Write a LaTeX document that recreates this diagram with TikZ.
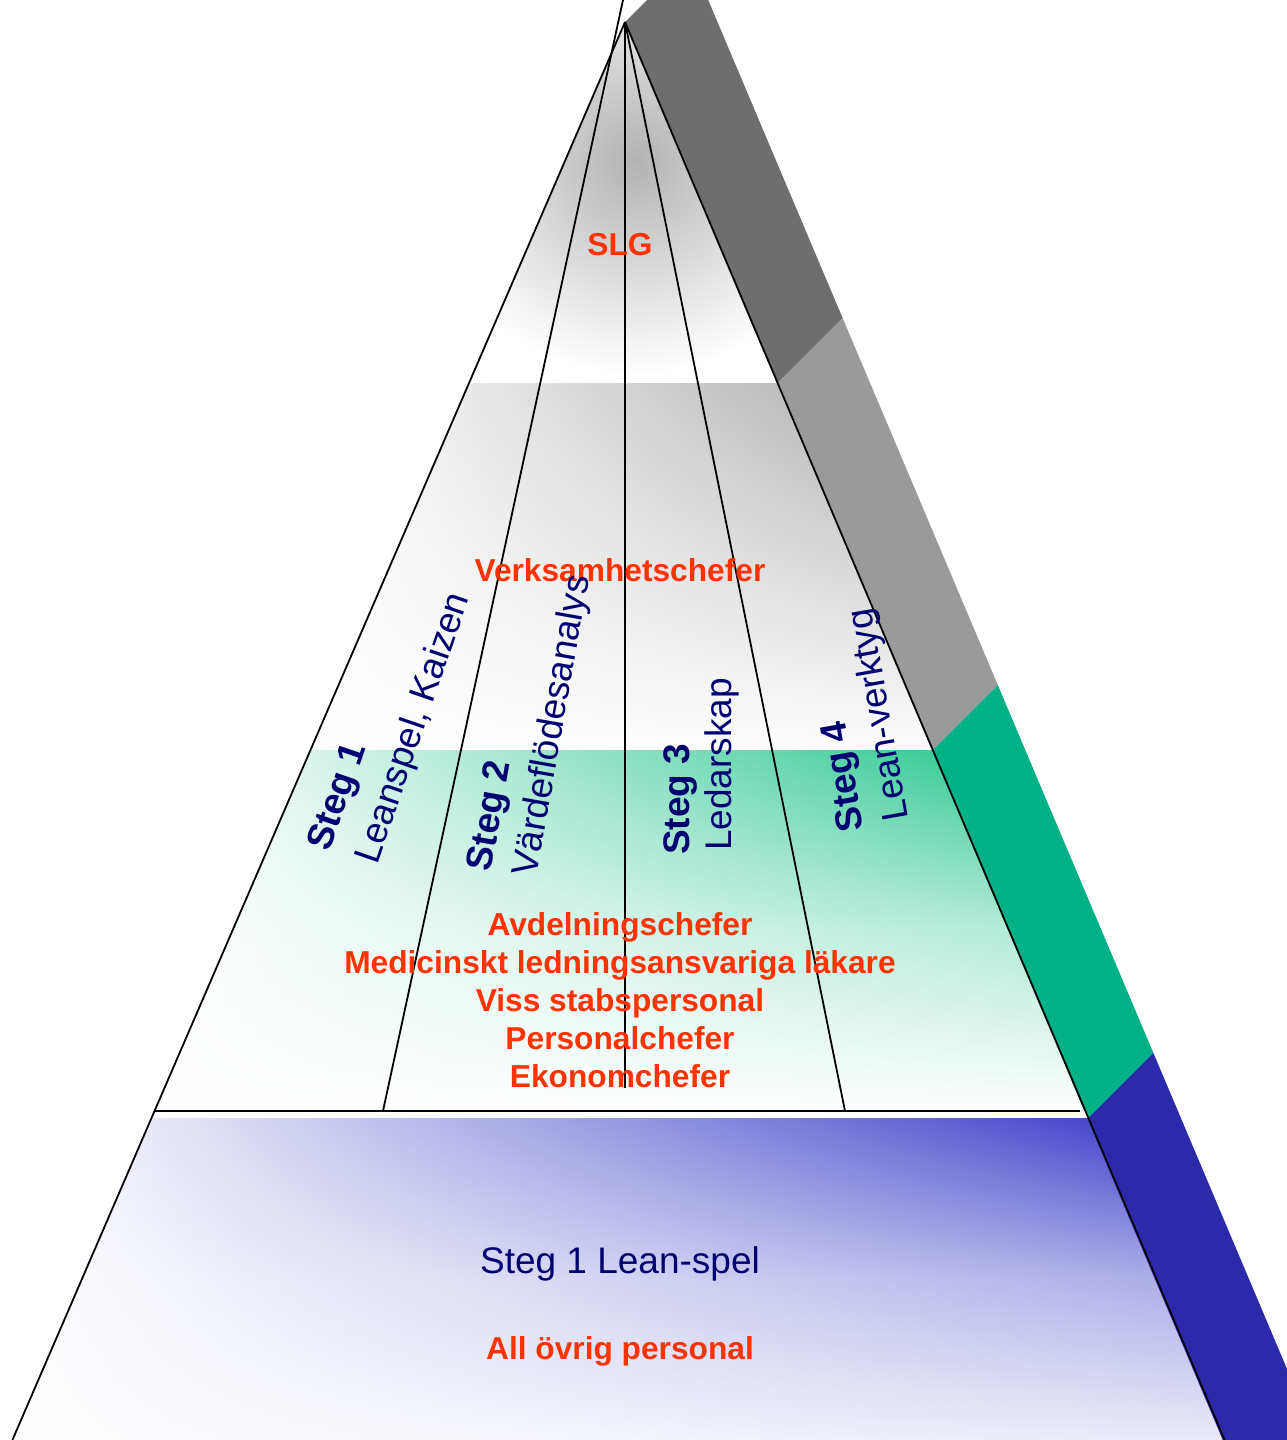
\documentclass[tikz,border=0pt]{standalone}
\usepackage{fontspec}
\setmainfont{Liberation Sans}
\usetikzlibrary{fadings}

\definecolor{redtxt}{HTML}{FF3300}
\definecolor{navytxt}{HTML}{000070}
\definecolor{sidedark}{HTML}{6E6E6E}
\definecolor{sidegray}{HTML}{9A9A9A}
\definecolor{sidegreen}{HTML}{00B086}
\definecolor{sideblue}{HTML}{2D2AAA}
\definecolor{topgray}{HTML}{B2B2B2}
\definecolor{layergray}{HTML}{A8A8A8}
\definecolor{layergreen}{HTML}{18C286}
\definecolor{layerblue}{HTML}{3030C6}

% fading that clears faster than the standard linear one
\tikzfading[name=quickwhite,
  top color=transparent!100, bottom color=transparent!0,
  middle color=transparent!35]

\begin{document}
\begin{tikzpicture}[x=1pt,y=-1pt,
  edge/.style={black, line width=1.8pt},
  grouplabel/.style={text=redtxt, font=\fontsize{31.7}{38}\selectfont\bfseries, anchor=base},
  steghead/.style={text=navytxt, font=\fontsize{37}{44}\selectfont\bfseries, anchor=west, inner sep=0pt},
  stegtext/.style={text=navytxt, font=\fontsize{37}{44}\selectfont, anchor=west, inner sep=0pt},
  basetext/.style={text=navytxt, font=\fontsize{37}{44}\selectfont, anchor=base},
]
\useasboundingbox (0,0) rectangle (1287,1440);
\clip (0,0) rectangle (1287,1440);

% corner points of the pyramid and its layers
\coordinate (apex) at (625,22);
\coordinate (l1) at (469,383);    \coordinate (r1) at (777.6,383);
\coordinate (l2) at (310.5,750);  \coordinate (r2) at (932.8,750);
\coordinate (l3) at (155,1110);   \coordinate (r3) at (1085,1110);
\coordinate (l4) at (151.5,1118); \coordinate (r4) at (1088.4,1118);
\coordinate (l5) at (12.4,1440);  \coordinate (r5) at (1224.5,1440);

% side face, split into four coloured bands
\fill[sidedark]  (apex) -- (r1) -- ++(65,-65) -- (690,-43) -- cycle;
\fill[sidegray]  (r1) -- (r2) -- ++(65,-65) -- (842.6,318) -- cycle;
\fill[sidegreen] (r2) -- (r4) -- ++(65,-65) -- (997.8,685) -- cycle;
\fill[sideblue]  (r4) -- (1258.4,1520) -- (1323.4,1455) -- (1153.4,1053) -- cycle;

% top layer
\begin{scope}
  \clip (apex) -- (r1) -- (l1) -- cycle;
  \shade[inner color=topgray, outer color=white] (635,160) circle (215);
\end{scope}

% second layer
\shade[left color=white, right color=layergray] (l1) -- (r1) -- (r2) -- (l2) -- cycle;
\fill[white, path fading=north] (l1) -- (r1) -- (r2) -- (l2) -- cycle;

% third layer
\shade[left color=white, right color=layergreen] (l2) -- (r2) -- (r3) -- (l3) -- cycle;
\fill[white, path fading=quickwhite] (l2) -- (r2) -- (r3) -- (l3) -- cycle;

% base layer
\shade[left color=white, right color=layerblue] (l4) -- (r4) -- (r5) -- (l5) -- cycle;
\fill[white, fill opacity=0.9, path fading=quickwhite] (l4) -- (r4) -- (r5) -- (l5) -- cycle;

% outline and the four fan divisions
\coordinate (d1) at (383,1111);
\coordinate (d1top) at (623,0);
\coordinate (d2) at (625,1088);
\coordinate (d3) at (845,1111);
\coordinate (hl) at (154.6,1111);
\coordinate (hr) at (1080,1111);
\draw[edge] (apex) -- (l5);
\draw[edge] (apex) -- (r5);
\draw[edge] (d1top) -- (d1);
\draw[edge] (apex) -- (d2);
\draw[edge] (apex) -- (d3);
\draw[edge] (hl) -- (hr);

% group labels
\node[grouplabel] (slg)  at (620,255)  {SLG};
\node[grouplabel] (verk) at (620,581)  {Verksamhetschefer};
\node[grouplabel] (avd)  at (620,935)  {Avdelningschefer};
\node[grouplabel] (med)  at (620,973)  {Medicinskt ledningsansvariga läkare};
\node[grouplabel] (viss) at (620,1011) {Viss stabspersonal};
\node[grouplabel] (pers) at (620,1049) {Personalchefer};
\node[grouplabel] (eko)  at (620,1087) {Ekonomchefer};
\node[basetext]   (lean) at (620,1273) {Steg 1 Lean-spel};
\node[grouplabel] (ovr)  at (620,1359) {All övrig personal};

% step labels along the fan
\node[steghead, rotate=71]  (s1h) at (321,850) {Steg 1};
\node[stegtext, rotate=71]  (s1t) at (368,863) {Leanspel, Kaizen};
\node[steghead, rotate=80]  (s2h) at (482,871) {Steg 2};
\node[stegtext, rotate=80]  (s2t) at (527,876) {Värdeflödesanalys};
\node[steghead, rotate=90]  (s3h) at (680,855) {Steg 3};
\node[stegtext, rotate=90]  (s3t) at (722,851) {Ledarskap};
\node[steghead, rotate=100] (s4h) at (855,831) {Steg 4};
\node[stegtext, rotate=100] (s4t) at (899,820) {Lean-verktyg};
\end{tikzpicture}
\end{document}
